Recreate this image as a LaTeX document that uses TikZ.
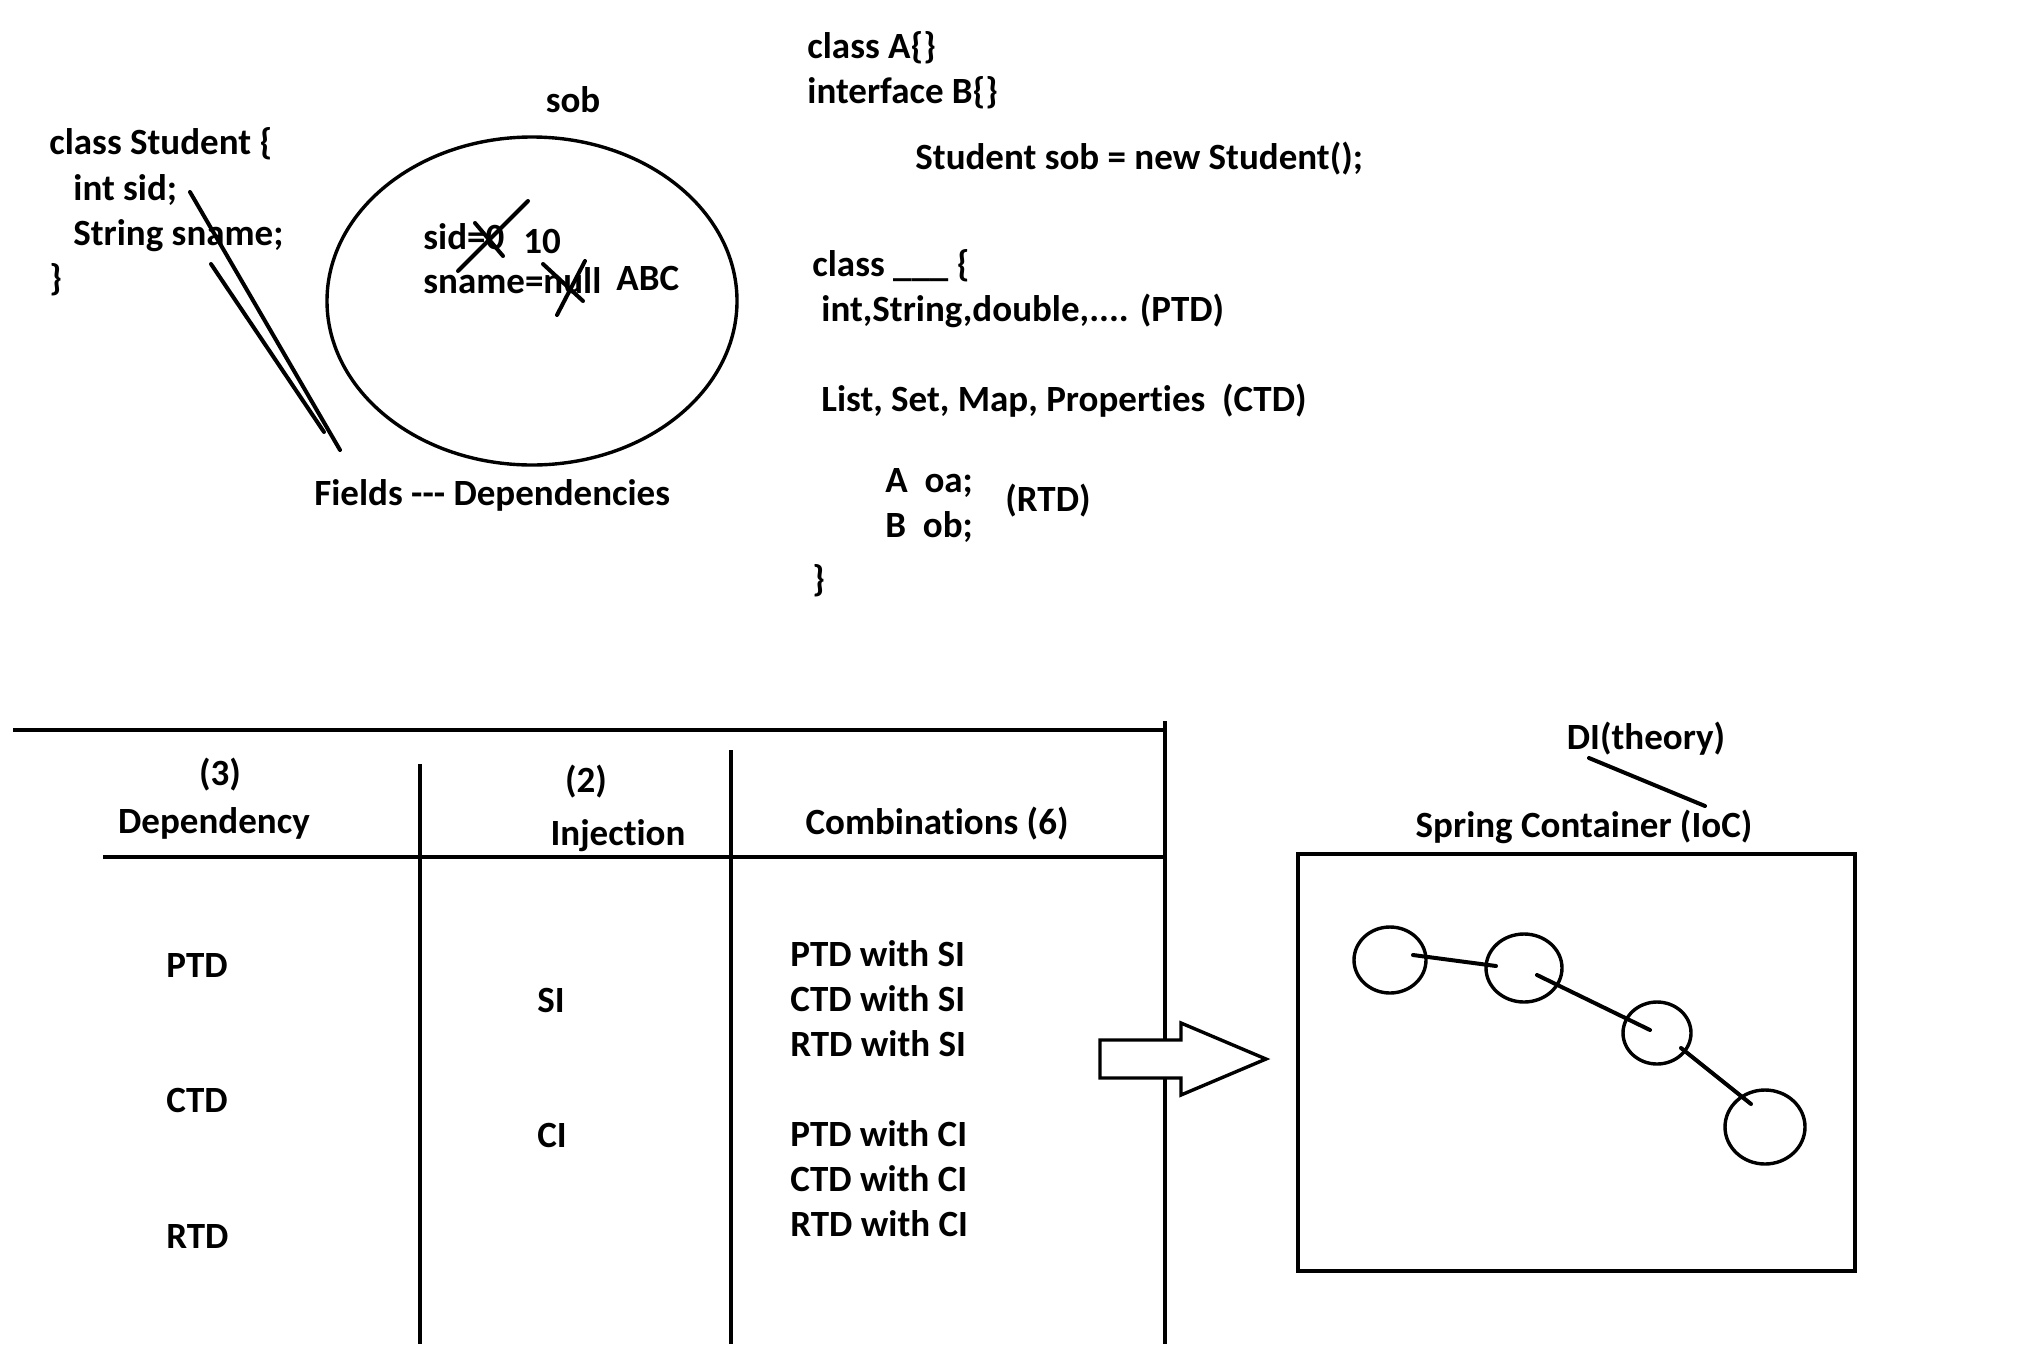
\documentclass[tikz,border=0pt]{standalone}
\usepackage{fontspec}
\setmainfont{Carlito}[Ligatures={NoCommon}]
\usetikzlibrary{shapes.geometric}
\tikzset{
  txt/.style={anchor=west, inner sep=0pt, font=\bfseries\fontsize{18.5}{22}\selectfont, text height=12pt, text depth=0pt},
  ctxt/.style={txt, anchor=center},
  ln/.style={line width=2pt, line cap=round},
  tbl/.style={line width=2pt},
  bubble/.style={ellipse, draw, line width=1.7pt, inner sep=0pt},
}
\begin{document}
\begin{tikzpicture}[x=0.5pt,y=-0.5pt]
\useasboundingbox (0,0) rectangle (2018,1344);
% ---------- top left: class Student ----------
\node[txt] (cs) at (49,142) {class Student \{};
\node[txt] (isid) at (73,188) {int sid;};
\node[txt] (ssn) at (73,233) {String sname;};
\node[txt] (cse) at (49,278) {\}};
\node[bubble, minimum width=205pt, minimum height=164pt] (sobobj) at (532,301) {};
\node[ctxt] (sob) at (573,100) {sob};
\node[txt] (sid) at (423,237) {sid=0};
\node[txt] (ten) at (523,241) {10};
\node[txt] (sname) at (423,281) {sname=null};
\node[txt] (abc) at (616,278) {ABC};
% strike-outs
\draw[ln] (458,271) -- (528,201);
\draw[ln] (475,223) -- (503,256);
\draw[ln] (557,315) -- (585,261);
\draw[ln] (543,264) -- (583,301);
% field lines
\coordinate (fa1) at (190,192);
\coordinate (fa2) at (340,450);
\coordinate (fb1) at (211,264);
\coordinate (fb2) at (324,432);
\draw[ln] (fa1) -- (fa2);
\draw[ln] (fb1) -- (fb2);
\node[txt] (fields) at (314,493) {Fields -{}-{}- Dependencies};
% ---------- top right ----------
\node[txt] (ca) at (807,46) {class A\{\}};
\node[txt] (ib) at (807,91) {interface B\{\}};
\node[txt] (new) at (915,157) {Student sob = new Student();};
\node[txt] (cls) at (812,264) {class \_\_\_ \{};
\node[txt] (ptd) at (821,309) {int,String,double,.... (PTD)};
\node[txt] (ctd) at (821,399) {List, Set, Map, Properties\ \ (CTD)};
\node[txt] (aoa) at (885,480) {A\ \ oa;};
\node[txt] (bob) at (885,525) {B\ \ ob;};
\node[txt] (rtd) at (1005,499) {(RTD)};
\node[txt] (clse) at (812,579) {\}};
% ---------- table ----------
\draw[tbl] (13,730) -- (1165,730);
\draw[tbl] (1165,721) -- (1165,1344);
\draw[tbl] (103,857) -- (1165,857);
\draw[tbl] (420,764) -- (420,1344);
\draw[tbl] (731,750) -- (731,1344);
\node[ctxt] (h3) at (220,773) {(3)};
\node[ctxt] (hdep) at (214,821) {Dependency};
\node[ctxt] (h2) at (586,780) {(2)};
\node[ctxt] (hinj) at (618,833) {Injection};
\node[ctxt] (hcomb) at (937,822) {Combinations (6)};
\node[txt] (rptd) at (166,965) {PTD};
\node[txt] (rctd) at (166,1100) {CTD};
\node[txt] (rrtd) at (166,1236) {RTD};
\node[txt] (rsi) at (537,1000) {SI};
\node[txt] (rci) at (537,1135) {CI};
\node[txt] (c1) at (790,954) {PTD with SI};
\node[txt] (c2) at (790,999) {CTD with SI};
\node[txt] (c3) at (790,1044) {RTD with SI};
\node[txt] (c4) at (790,1134) {PTD with CI};
\node[txt] (c5) at (790,1179) {CTD with CI};
\node[txt] (c6) at (790,1224) {RTD with CI};
% ---------- block arrow ----------
\draw[line width=1.7pt, fill=white] (1100,1040) -- (1181,1040) -- (1181,1023) -- (1266,1059) -- (1181,1095) -- (1181,1078) -- (1100,1078) -- cycle;
% ---------- container ----------
\node[draw, tbl, anchor=north west, minimum width=278.5pt, minimum height=208.5pt, inner sep=0pt] (box) at (1296,852) {};
\node[ctxt] (spring) at (1584,825) {Spring Container (IoC)};
\node[ctxt] (di) at (1646,737) {DI(theory)};
\coordinate (d1) at (1589,758);
\coordinate (d2) at (1705,806);
\draw[ln] (d1) -- (d2);
\node[bubble, minimum width=36pt, minimum height=33pt] (b1) at (1390,960) {};
\node[bubble, minimum width=38pt, minimum height=34pt] (b2) at (1524,968) {};
\node[bubble, minimum width=34pt, minimum height=31pt] (b3) at (1657,1033) {};
\node[bubble, minimum width=40pt, minimum height=37pt] (b4) at (1765,1127) {};
\coordinate (l1a) at (1413,955);
\coordinate (l1b) at (1496,966);
\coordinate (l2a) at (1537,975);
\coordinate (l2b) at (1650,1030);
\coordinate (l3a) at (1681,1048);
\coordinate (l3b) at (1751,1104);
\draw[ln] (l1a) -- (l1b);
\draw[ln] (l2a) -- (l2b);
\draw[ln] (l3a) -- (l3b);
\end{tikzpicture}
\end{document}
